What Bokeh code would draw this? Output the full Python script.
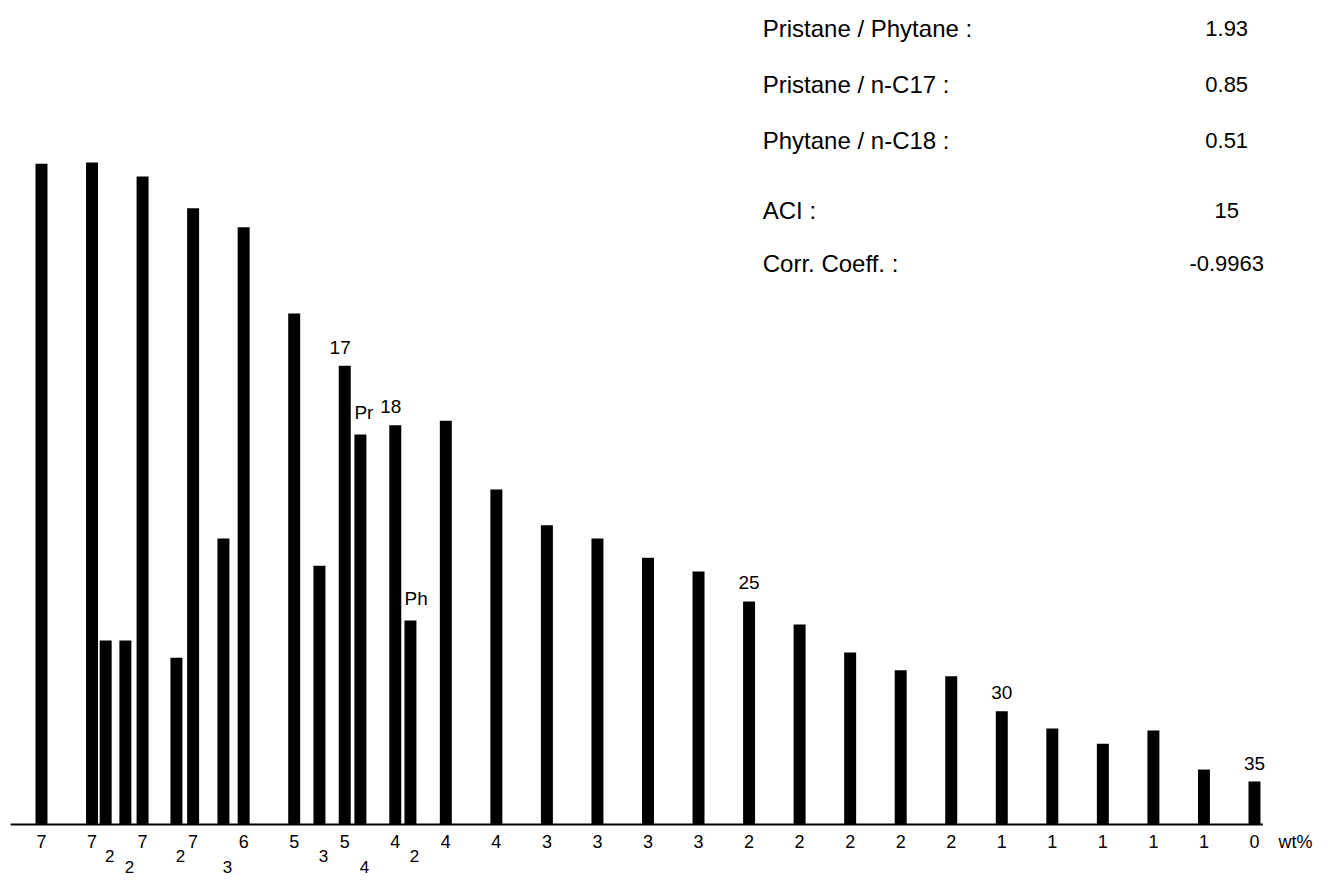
from bokeh.plotting import figure
from bokeh.models import Range1d
from bokeh.core.properties import value
from bokeh.embed import file_html
from bokeh.resources import INLINE

# ---- data -------------------------------------------------------------
# n-alkanes C11..C35 : relative peak height (tallest = 100) and wt% labels
carbons = list(range(11, 36))
alkane_height = [99.8, 100.0, 97.9, 93.1, 90.2, 77.2, 69.3, 60.3, 61.0, 50.6,
                 45.2, 43.2, 40.3, 38.2, 33.7, 30.2, 26.0, 23.3, 22.4, 17.1,
                 14.5, 12.2, 14.2, 8.3, 6.5]
alkane_wt = ["7", "7", "7", "7", "6", "5", "5", "4", "4", "4", "3", "3", "3",
             "3", "2", "2", "2", "2", "2", "1", "1", "1", "1", "1", "0"]

# isoprenoids: elution position (in carbon-number units), height, wt% label, label row
iso_pos = [12.27, 12.66, 13.67, 14.60, 16.50, 17.31, 18.30]
iso_height = [27.8, 27.8, 25.2, 43.2, 39.1, 58.9, 30.8]
iso_wt = ["2", "2", "2", "3", "3", "4", "2"]
iso_row = [1, 2, 1, 2, 1, 2, 1]

# peak annotations
peak_text = ["17", "Pr", "18", "Ph", "25", "30", "35"]
peak_pos = [17, 17.31, 18, 18.30, 25, 30, 35]
peak_height = [69.3, 58.9, 60.3, 30.8, 33.7, 17.1, 6.5]
peak_align = ["right", "left", "right", "left", "center", "center", "center"]

stat_names = ["Pristane / Phytane :", "Pristane / n-C17 :", "Phytane / n-C18 :",
              "ACI :", "Corr. Coeff. :"]
stat_values = ["1.93", "0.85", "0.51", "15", "-0.9963"]
stat_rows = [0, 1, 2, 3.25, 4.2]

# ---- figure -----------------------------------------------------------
X_LO, X_HI = 10.189, 36.227
Y_LO, Y_HI = -8.006, 124.47
BAR_W = 0.237
FONT = value("Liberation Sans")

p = figure(width=1316, height=877, output_backend="svg", toolbar_location=None,
           x_range=Range1d(X_LO, X_HI), y_range=Range1d(Y_LO, Y_HI),
           x_axis_location=None, y_axis_location=None, min_border=0)
p.grid.visible = False
p.outline_line_color = None
p.background_fill_color = "white"
p.border_fill_color = "white"

# baseline
p.segment(x0=[X_LO + 0.2], y0=[0], x1=[carbons[-1] + BAR_W * 0.7], y1=[0],
          line_color="black", line_width=2)

# bars
p.vbar(x=carbons, top=alkane_height, bottom=0, width=BAR_W,
       fill_color="black", line_color=None)
p.vbar(x=iso_pos, top=iso_height, bottom=0, width=BAR_W,
       fill_color="black", line_color=None)

# wt% labels under bars
ROW_Y = [-2.6, -4.75, -6.35]
p.text(x=carbons, y=[ROW_Y[0]] * len(carbons), text=alkane_wt,
       text_align="center", text_baseline="middle", text_font=FONT,
       text_font_size="18px", text_color="black")
p.text(x=[x + 0.08 for x in iso_pos], y=[ROW_Y[r] for r in iso_row], text=iso_wt,
       text_align="center", text_baseline="middle", text_font=FONT,
       text_font_size="17px", text_color="black")
p.text(x=[carbons[-1] + 0.475], y=[ROW_Y[0]], text=["wt%"],
       text_align="left", text_baseline="middle", text_font=FONT,
       text_font_size="18px", text_color="black")

# peak annotations
GAP = 1.8
for t, xp, h, al in zip(peak_text, peak_pos, peak_height, peak_align):
    dx = {"left": -BAR_W / 2, "right": BAR_W / 2, "center": 0}[al]
    p.text(x=[xp + dx], y=[h + GAP], text=[t], text_align=al,
           text_baseline="bottom", text_font=FONT, text_font_size="19px",
           text_color="black")

# statistics block
STAT_TOP = 120.2
STAT_STEP = 8.45
sy = [STAT_TOP - r * STAT_STEP for r in stat_rows]
p.text(x=[25.27] * len(stat_names), y=sy, text=stat_names, text_align="left",
       text_baseline="middle", text_font=FONT, text_font_size="24px",
       text_color="black")
p.text(x=[34.45] * len(stat_values), y=sy, text=stat_values, text_align="center",
       text_baseline="middle", text_font=FONT, text_font_size="22px",
       text_color="black")

open("out.html", "w").write(file_html(p, INLINE))
